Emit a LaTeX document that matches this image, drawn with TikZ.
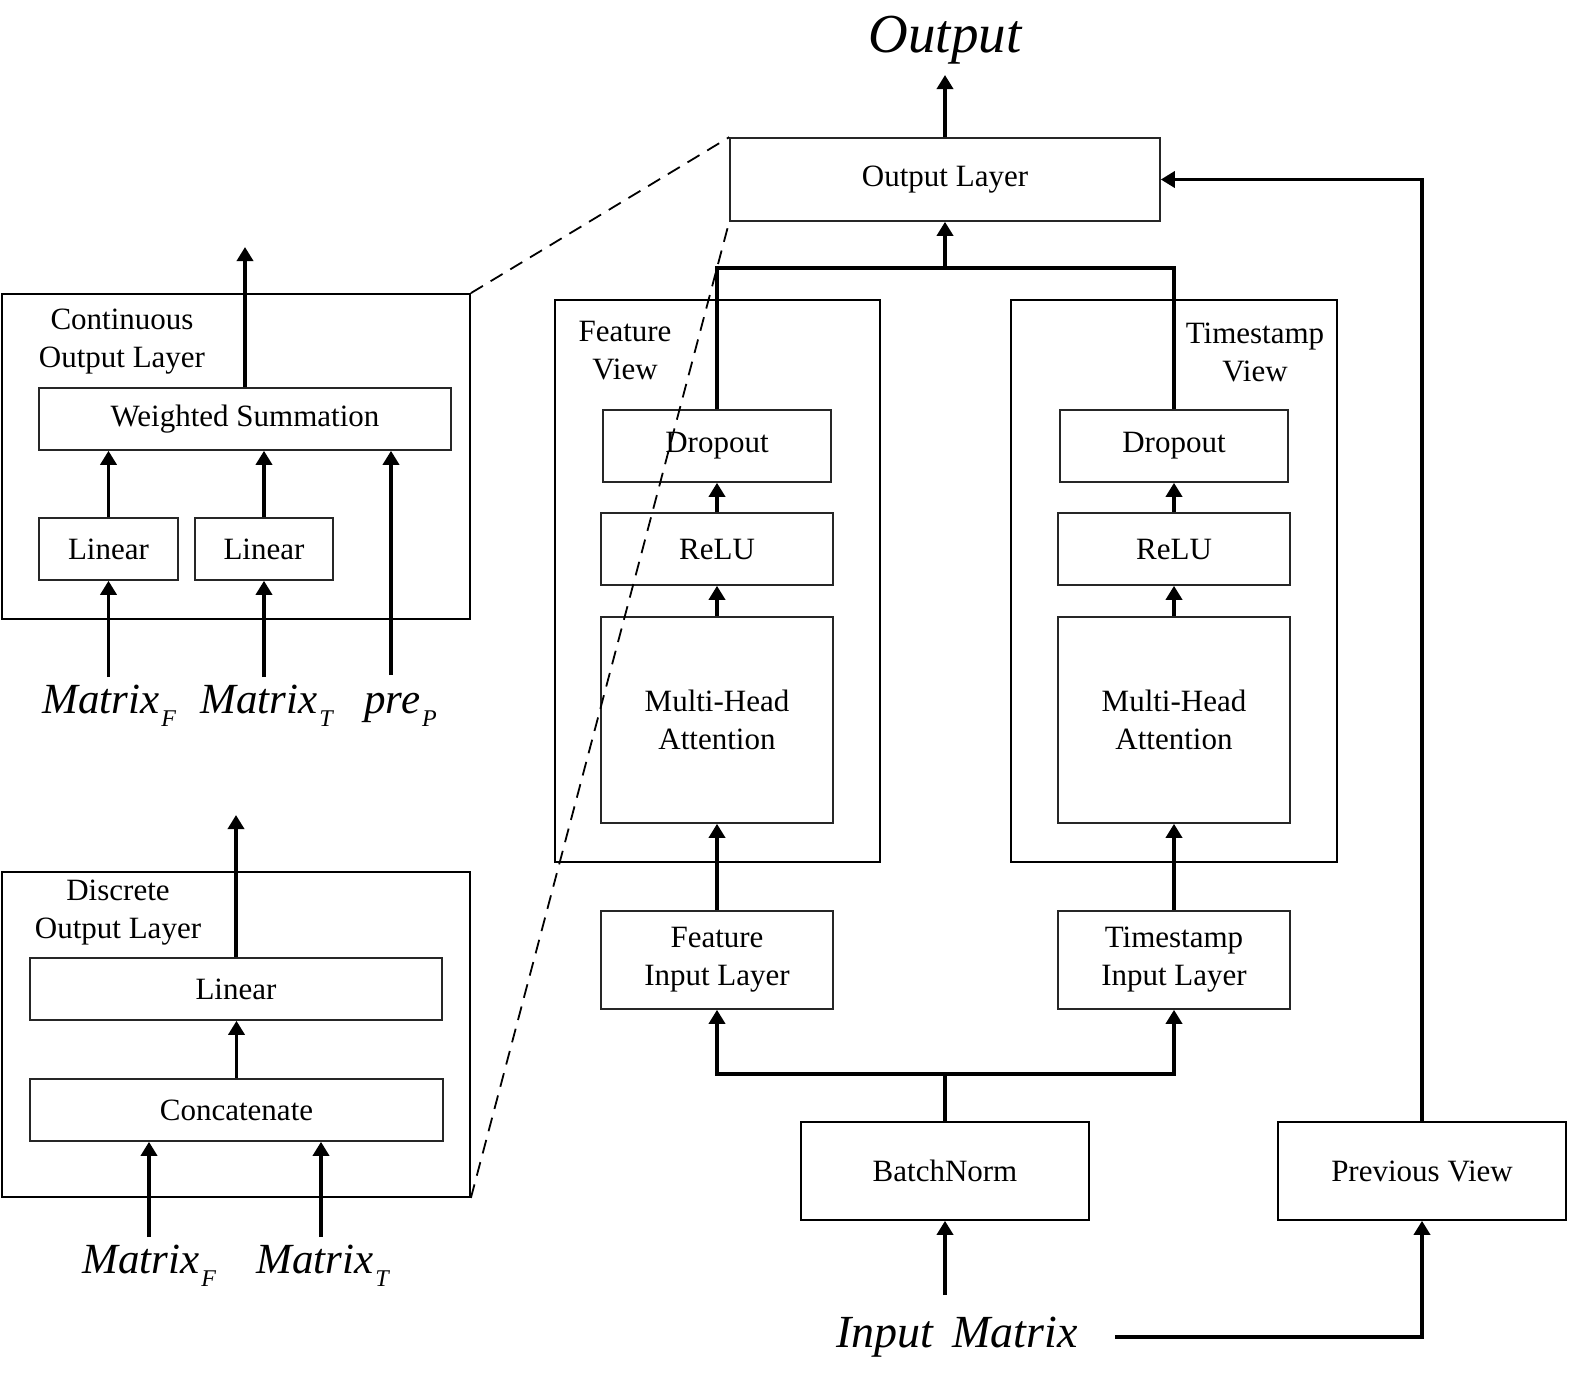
\documentclass[tikz,border=0pt]{standalone}
\usepackage{fontspec}
\setmainfont{Liberation Serif}
\usetikzlibrary{arrows.meta}
\begin{document}
\begin{tikzpicture}[x=0.5pt,y=-0.5pt,
  box/.style={draw=black!85,line width=0.8pt,inner sep=0pt,fill=white,
    font=\fontsize{15.5}{19}\selectfont,align=center},
  cont/.style={draw=black,line width=0.9pt,inner sep=0pt},
  lbl/.style={inner sep=0pt,font=\fontsize{15.5}{19}\selectfont,align=center},
  wire/.style={line width=1.8pt},
  arr/.style={line width=1.8pt,-{Triangle[length=7pt,width=8pt]}},
  zoomline/.style={line width=0.9pt,dash pattern=on 7pt off 4.5pt},
  big/.style={inner sep=0pt,font=\fontsize{21.5}{24}\selectfont\itshape},
]
\useasboundingbox (0,0) rectangle (1589,1393);
\newcommand{\sbs}[1]{\kern1pt\raisebox{-0.32em}{\fontsize{12}{12}\selectfont #1}}

% ---------- right: main architecture ----------
\node[cont,minimum width=162.5pt,minimum height=281pt] (fv) at (717.5,581) {};
\node[cont,minimum width=163pt,minimum height=281pt] (tv) at (1174,581) {};
\node[lbl] (fvl) at (625,351) {Feature\\View};
\node[lbl] (tvl) at (1255,352) {Timestamp\\View};

\node[box,minimum width=215pt,minimum height=41.5pt] (outL) at (945,179.5) {Output Layer};

\node[box,minimum width=114pt,minimum height=36pt] (dropL) at (717,446) {Dropout};
\node[box,minimum width=116pt,minimum height=36pt] (reluL) at (717,549) {ReLU};
\node[box,minimum width=116pt,minimum height=103pt] (mhaL) at (717,720) {Multi-Head\\Attention};
\node[box,minimum width=116pt,minimum height=49pt] (filL) at (717,960) {Feature\\Input Layer};

\node[box,minimum width=114pt,minimum height=36pt] (dropR) at (1174,446) {Dropout};
\node[box,minimum width=116pt,minimum height=36pt] (reluR) at (1174,549) {ReLU};
\node[box,minimum width=116pt,minimum height=103pt] (mhaR) at (1174,720) {Multi-Head\\Attention};
\node[box,minimum width=116pt,minimum height=49pt] (tilR) at (1174,960) {Timestamp\\Input Layer};

\node[box,draw=black,minimum width=144pt,minimum height=49pt] (bn) at (945,1171) {BatchNorm};
\node[box,draw=black,minimum width=144pt,minimum height=49pt] (pv) at (1422,1171) {Previous View};

\node[inner sep=0pt,anchor=base,font=\fontsize{27.5}{30}\selectfont\itshape] (outtxt) at (945,52) {Output};
\node[inner sep=0pt,anchor=base,font=\fontsize{23}{26}\selectfont\itshape] (intxt) at (957,1347) {Input\, Matrix};

\coordinate (outtop) at (945,75);
\coordinate (jt) at (945,268);
\coordinate (jb) at (945,1074);
\coordinate (imt) at (945,1295);
\coordinate (imr) at (1115,1337);

\draw[arr] (outL.north) -- (outtop);
\draw[wire] (dropL.north) |- (jt) -| (dropR.north);
\draw[arr] (jt) -- (outL.south);
\draw[arr] (reluL) -- (dropL);
\draw[arr] (mhaL) -- (reluL);
\draw[arr] (filL) -- (mhaL);
\draw[arr] (reluR) -- (dropR);
\draw[arr] (mhaR) -- (reluR);
\draw[arr] (tilR) -- (mhaR);
\draw[wire] (bn.north) -- (jb);
\draw[arr] (jb) -| (filL.south);
\draw[arr] (jb) -| (tilR.south);
\draw[arr] (imt) -- (bn.south);
\draw[arr] (imr) -| (pv.south);
\draw[arr] (pv.north) |- (outL.east);

% ---------- left top: continuous output layer ----------
\node[cont,minimum width=234pt,minimum height=162.5pt] (cbox) at (236,456.5) {};
\node[lbl] (cl) at (122,342) {Continuous\\Output Layer};
\node[box,minimum width=206pt,minimum height=31pt] (ws) at (245,419) {Weighted Summation};
\node[box,minimum width=69.5pt,minimum height=31pt] (lin1) at (108.5,549) {Linear};
\node[box,minimum width=69pt,minimum height=31pt] (lin2) at (264,549) {Linear};
\node[big,anchor=base west] (mf1) at (42,713) {Matrix\sbs{F}};
\node[big,anchor=base west] (mt1) at (200,713) {Matrix\sbs{T}};
\node[big,anchor=base west] (pp) at (364,713) {pre\sbs{P}};
\coordinate (wsout) at (245,247);
\coordinate (a1) at (108.5,677);
\coordinate (a2) at (264,677);
\coordinate (a3) at (391,675);
\draw[arr] (ws.north) -- (wsout);
\draw[arr] (lin1) -- (lin1 |- ws.south);
\draw[arr] (lin2) -- (lin2 |- ws.south);
\draw[arr] (a3) -- (a3 |- ws.south);
\draw[arr] (a1) -- (lin1.south);
\draw[arr] (a2) -- (lin2.south);

% ---------- left bottom: discrete output layer ----------
\node[cont,minimum width=234pt,minimum height=162.5pt] (dbox) at (236,1034.5) {};
\node[lbl] (dl) at (118,913) {Discrete\\Output Layer};
\node[box,minimum width=206pt,minimum height=31pt] (dlin) at (236,989) {Linear};
\node[box,minimum width=206.5pt,minimum height=31pt] (cat) at (236.5,1110) {Concatenate};
\node[big,anchor=base west] (mf2) at (82,1273) {Matrix\sbs{F}};
\node[big,anchor=base west] (mt2) at (256,1273) {Matrix\sbs{T}};
\coordinate (dout) at (236,815);
\coordinate (b1) at (149,1237);
\coordinate (b2) at (321,1237);
\draw[arr] (dlin.north) -- (dout);
\draw[arr] (cat) -- (cat |- dlin.south);
\draw[arr] (b1) -- (b1 |- cat.south);
\draw[arr] (b2) -- (b2 |- cat.south);

% ---------- zoom indicators ----------
\draw[zoomline] (cbox.north east) -- (outL.north west);
\draw[zoomline] (dbox.south east) -- (outL.south west);
\end{tikzpicture}
\end{document}
